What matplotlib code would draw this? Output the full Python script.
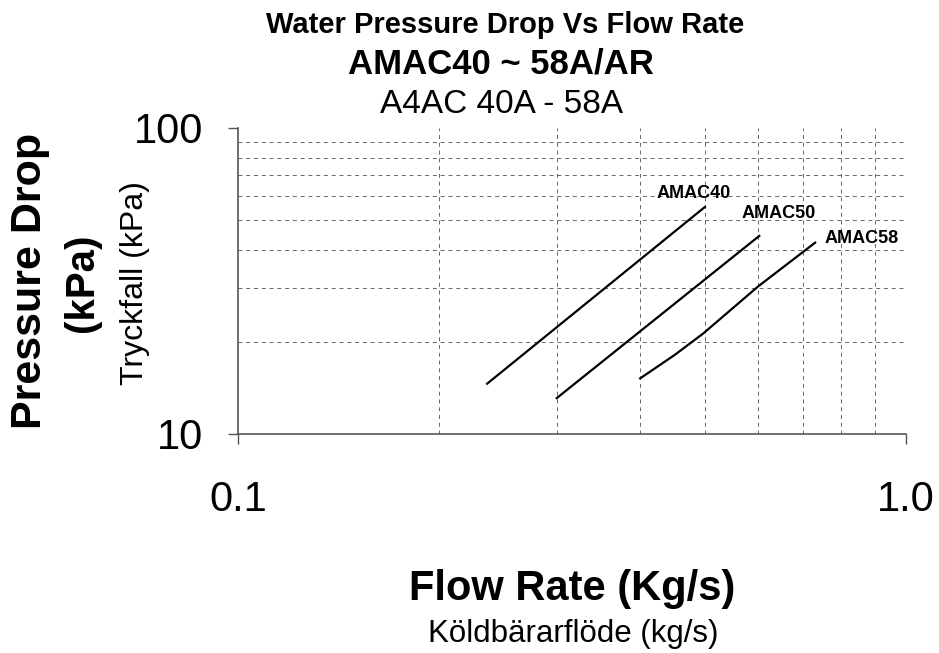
import matplotlib
matplotlib.use("Agg")
import matplotlib.pyplot as plt
from matplotlib.ticker import FixedLocator, NullFormatter

plt.rcParams['font.family'] = ['Liberation Sans', 'DejaVu Sans']

# curves (flow kg/s, pressure drop kPa)
amac40_flow = [0.236, 0.50]
amac40_dp = [14.6, 55.2]

amac50_flow = [0.30, 0.603]
amac50_dp = [13.1, 44.4]

amac58_flow = [0.40, 0.45, 0.497, 0.60, 0.731]
amac58_dp = [15.2, 18.1, 21.3, 30.3, 42.2]

labels = ['AMAC40', 'AMAC50', 'AMAC58']
label_pos = [(0.423, 59.0), (0.568, 50.8), (0.756, 42.1)]

x_major = [0.1, 1.0]
x_major_labels = ['0.1', '1.0']
y_major = [10, 100]
y_major_labels = ['10', '100']
x_minor = [0.2, 0.3, 0.4, 0.5, 0.6, 0.7, 0.8, 0.9]
y_minor = [20, 30, 40, 50, 60, 70, 80, 90]

fig = plt.figure(figsize=(9.39, 6.53), dpi=100)
ax = fig.add_axes([0.2535, 0.3354, 0.9649 - 0.2535, 0.804 - 0.3354])

ax.set_xscale('log')
ax.set_yscale('log')
ax.set_xlim(0.1, 1.0)
ax.set_ylim(10, 100)

for fl, dp in [(amac40_flow, amac40_dp), (amac50_flow, amac50_dp), (amac58_flow, amac58_dp)]:
    ax.plot(fl, dp, color='black', lw=1.6)

for lab, (lx, ly) in zip(labels, label_pos):
    ax.text(lx, ly, lab, fontsize=13, fontweight='bold', va='baseline', ha='left')

ax.xaxis.set_major_locator(FixedLocator(x_major))
ax.yaxis.set_major_locator(FixedLocator(y_major))
ax.xaxis.set_minor_locator(FixedLocator(x_minor))
ax.yaxis.set_minor_locator(FixedLocator(y_minor))
ax.xaxis.set_minor_formatter(NullFormatter())
ax.yaxis.set_minor_formatter(NullFormatter())
ax.set_xticklabels(x_major_labels)
ax.set_yticklabels(y_major_labels)

ax.grid(which='minor', color='#666666', linestyle=(0, (4, 4)), linewidth=0.7)
ax.tick_params(which='minor', length=0)
ax.tick_params(which='major', length=7, width=1, color='#555555', direction='out', labelsize=30)
ax.tick_params(axis='x', which='major', pad=26)
ax.tick_params(axis='y', which='major', pad=18)

for s in ['top', 'right']:
    ax.spines[s].set_visible(False)
for s in ['left', 'bottom']:
    ax.spines[s].set_color('#555555')
    ax.spines[s].set_linewidth(1.2)

fig.text(0.538, 0.949, 'Water Pressure Drop Vs Flow Rate', ha='center', va='baseline',
         fontsize=21, fontweight='bold')
fig.text(0.534, 0.888, 'AMAC40 ~ 58A/AR', ha='center', va='baseline',
         fontsize=25, fontweight='bold')
fig.text(0.534, 0.827, 'A4AC 40A - 58A', ha='center', va='baseline', fontsize=24)

fig.text(0.609, 0.081, 'Flow Rate (Kg/s)', ha='center', va='baseline',
         fontsize=30, fontweight='bold')
fig.text(0.610, 0.029, 'Köldbärarflöde (kg/s)', ha='center', va='center', fontsize=22.5)

fig.text(0.032, 0.57, 'Pressure Drop', ha='center', va='center', rotation=90,
         fontsize=31, fontweight='bold')
fig.text(0.087, 0.567, '(kPa)', ha='center', va='center', rotation=90,
         fontsize=29, fontweight='bold')
fig.text(0.144, 0.567, 'Tryckfall (kPa)', ha='center', va='center', rotation=90, fontsize=23)

fig.savefig('out.png', dpi=100)
